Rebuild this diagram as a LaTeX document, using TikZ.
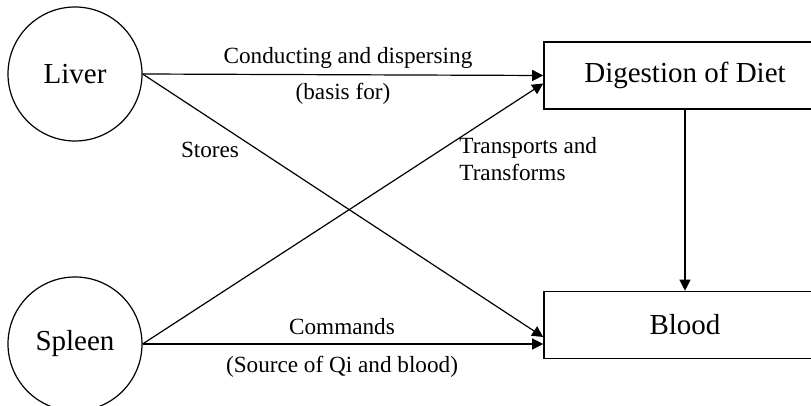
\documentclass[tikz,border=0pt]{standalone}
\usepackage{fontspec}
\setmainfont{Liberation Serif}
\usepackage{tikz}
\usetikzlibrary{calc}
\usetikzlibrary{positioning}
\usetikzlibrary{arrows.meta}
\tikzstyle{organnode} = [draw, circle, line width=0.6pt, minimum size=67pt, inner sep=0pt, font=\fontsize{14.5}{16}\selectfont]
\tikzstyle{boxnode} = [draw, rectangle, line width=0.8pt, minimum width=141pt, minimum height=33.5pt, font=\fontsize{14.5}{16}\selectfont]
\tikzstyle{rel} = [-{Triangle[length=5.5pt,width=5.5pt]}, line width=0.6pt]
\tikzstyle{lbl} = [font=\fontsize{11.6}{13.5}\selectfont, inner sep=1pt]

\begin{document}
\begin{tikzpicture}[x=0.5pt, y=-0.5pt]
  \useasboundingbox (0,0) rectangle (811,406);

  \node[organnode] (liver) at (75,74) {Liver};
  \node[organnode] (spleen) at (75,344) {Spleen};
  \node[boxnode] (digest) at (685,75.5) {Digestion of Diet};
  \node[boxnode] (blood) at (685,325) {Blood};

  \draw[rel] (liver.east) -- (digest.west);
  \draw[rel] (liver.east) -- ([yshift=-6pt]blood.west);
  \draw[rel] (spleen.east) -- ([yshift=-4pt]digest.west);
  \draw[rel] (spleen.east) -- (spleen.east -| blood.west);
  \draw[rel] (digest) -- (blood);

  \node[lbl] (conduct) at (348,58) {Conducting and dispersing};
  \node[lbl] (basis) at (343,94) {(basis for)};
  \node[lbl] (stores) at (210,150) {Stores};
  \node[lbl, align=left, anchor=west] (transp) at (457,159) {Transports and\\Transforms};
  \node[lbl] (commands) at (342,327) {Commands};
  \node[lbl] (source) at (342,367) {(Source of Qi and blood)};
\end{tikzpicture}
\end{document}
